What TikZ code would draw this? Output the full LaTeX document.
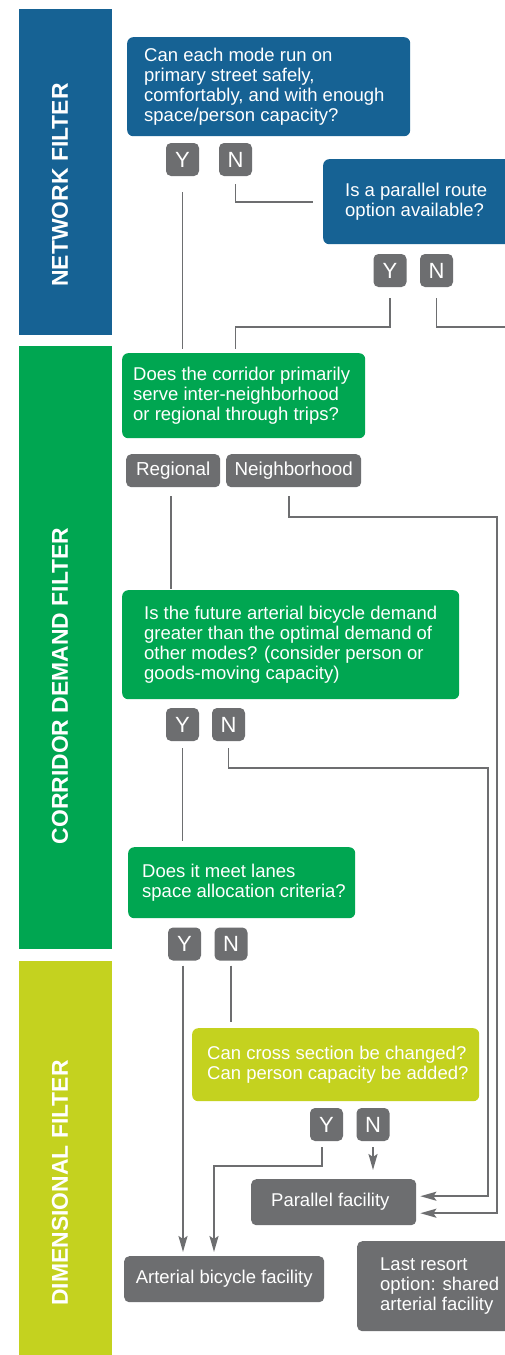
\documentclass[tikz,border=0pt]{standalone}
\usepackage{fontspec}
\setmainfont{Liberation Sans}
\usetikzlibrary{arrows.meta,calc}
\definecolor{nfblue}{RGB}{22,98,148}
\definecolor{cdgreen}{RGB}{0,166,81}
\definecolor{dfyellow}{RGB}{196,210,31}
\definecolor{boxgray}{RGB}{109,110,112}
\definecolor{linegray}{RGB}{109,110,112}
\begin{document}
\begin{tikzpicture}[x={(1pt,0pt)},y={(0pt,-1pt)},
  bar/.style={rectangle, inner sep=0pt, anchor=north west, minimum width=93pt},
  bartext/.style={rotate=90, text=white, inner sep=0pt, font=\bfseries\fontsize{22.9}{23}\selectfont},
  qbox/.style={rectangle, rounded corners=6pt, inner sep=0pt, anchor=north west},
  qtext/.style={anchor=west, align=left, inner sep=0pt, text=white, font=\fontsize{18.5}{20}\selectfont},
  graybox/.style={rectangle, rounded corners=5pt, fill=boxgray, inner sep=0pt, anchor=north west},
  yn/.style={rectangle, rounded corners=5pt, fill=boxgray, text=white, minimum width=33pt, minimum height=33pt, inner sep=0pt, font=\fontsize{22}{22}\selectfont},
  lbl/.style={graybox, text=white, minimum height=33pt, font=\fontsize{18.8}{20}\selectfont},
  conn/.style={draw=linegray, line width=1.9pt},
  arr/.style={conn, -{Stealth[length=16pt,width=9pt,inset=3pt]}}
]
\fill[white] (0,0) rectangle (504,1355);
\useasboundingbox (0,0) rectangle (504,1355);

% side bars
\node[bar, fill=nfblue, minimum height=326pt] (NF) at (19,9) {};
\node[bartext] (NFt) at (60,185) {NETWORK FILTER};
\node[bar, fill=cdgreen, minimum height=603pt] (CD) at (19,346) {};
\node[bartext] (CDt) at (60,686) {CORRIDOR DEMAND FILTER};
\node[bar, fill=dfyellow, minimum height=400pt] (DF) at (19,961) {};
\node[bartext] (DFt) at (60,1183) {DIMENSIONAL FILTER};

% question boxes
\node[qbox, fill=nfblue, minimum width=283pt, minimum height=99pt] (Q1) at (127,37) {};
\node[qtext] (Q1t) at ([xshift=17pt]Q1.west) {Can each mode run on\\primary street safely,\\comfortably, and with enough\\space/person capacity?};
\node[qbox, fill=nfblue, minimum width=200pt, minimum height=85pt] (Q2) at (323,159) {};
\node[qtext] (Q2t) at ([xshift=22pt]Q2.west) {Is a parallel route\\option available?};
\node[qbox, fill=cdgreen, minimum width=243pt, minimum height=85pt] (Q3) at (122,353) {};
\node[qtext] (Q3t) at ([xshift=11pt]Q3.west) {Does the corridor primarily\\serve inter-neighborhood\\or regional through trips?};
\node[qbox, fill=cdgreen, minimum width=337pt, minimum height=109pt] (Q4) at (122,590) {};
\node[qtext] (Q4t) at ([xshift=22pt]Q4.west) {Is the future arterial bicycle demand\\greater than the optimal demand of\\other modes? (consider person or\\goods-moving capacity)};
\node[qbox, fill=cdgreen, minimum width=227pt, minimum height=71pt] (Q5) at (128,847) {};
\node[qtext] (Q5t) at ([xshift=14pt]Q5.west) {Does it meet lanes\\space allocation criteria?};
\node[qbox, fill=dfyellow, minimum width=287pt, minimum height=73pt] (Q6) at (192,1028) {};
\node[qtext] (Q6t) at ([xshift=15pt]Q6.west) {Can cross section be changed?\\Can person capacity be added?};

% outcome boxes
\node[graybox, minimum width=165pt, minimum height=46pt] (PF) at (251,1179) {};
\node[qtext] (PFt) at ([xshift=20pt]PF.west) {Parallel facility};
\node[graybox, text=white, minimum width=200pt, minimum height=46pt, font=\fontsize{18.5}{20}\selectfont] (AB) at (124,1256) {Arterial bicycle facility};
\node[graybox, minimum width=170pt, minimum height=90pt] (LR) at (357,1241) {};
\node[qtext] (LRt) at ([xshift=23pt]LR.west) {Last resort\\option: shared\\arterial facility};

% answer tags
\node[yn] (Y1) at (182.5,159.5) {Y};
\node[yn] (N1) at (235.5,159.5) {N};
\node[yn] (Y2) at (390,270.5) {Y};
\node[yn] (N2) at (436.5,270.5) {N};
\node[lbl, minimum width=94pt] (RG) at (126,454) {Regional};
\node[lbl, minimum width=135pt] (NB) at (226,454) {Neighborhood};
\node[yn] (Y3) at (182.5,724.5) {Y};
\node[yn] (N3) at (228.5,724.5) {N};
\node[yn] (Y4) at (184.5,944) {Y};
\node[yn] (N4) at (231,944) {N};
\node[yn] (Y5) at (326.5,1124.5) {Y};
\node[yn] (N5) at (373,1124.5) {N};

% helper coordinates
\coordinate (c2) at (0,327);
\coordinate (e2) at (515,327);
\coordinate (r1) at (497,517);
\coordinate (r2) at (488,768);
\coordinate (c5) at (214,1166);

% connectors
\draw[conn, shorten <=16pt, shorten >=4pt] (Y1.south) -- (Y1.south |- Q3.north);
\draw[conn, shorten <=8pt, shorten >=10pt] (N1.south) |- (Q2.west);
\draw[conn, shorten <=11pt, shorten >=4pt] (Y2.south) -- (Y2.south |- c2) -| (N1.south |- Q3.north);
\draw[conn, shorten <=11pt] (N2.south) |- (e2);
\draw[conn, shorten <=9pt, shorten >=1pt] ([xshift=-2pt]RG.south) -- ([xshift=-2pt]RG.south |- Q4.north);
\draw[arr, shorten <=9pt, shorten >=4pt] ([xshift=-4.5pt]NB.south) |- (r1) |- ([yshift=-11pt]PF.east);
\draw[conn, shorten <=7pt, shorten >=6pt] (Y3.south) -- (Y3.south |- Q5.north);
\draw[arr, shorten <=7pt, shorten >=4pt] (N3.south) |- (r2) |- ([yshift=6pt]PF.east);
\draw[arr, shorten <=5pt, shorten >=4pt] ([xshift=-1.5pt]Y4.south) -- ([xshift=-1.5pt]Y4.south |- AB.north);
\draw[conn, shorten <=5pt, shorten >=6pt] (N4.south) -- (N4.south |- Q6.north);
\draw[arr, shorten <=6pt, shorten >=4pt] ([xshift=-4.5pt]Y5.south) |- (c5) -- (c5 |- AB.north);
\draw[arr, shorten <=6pt, shorten >=9pt] (N5.south) -- (N5.south |- PF.north);
\end{tikzpicture}
\end{document}
